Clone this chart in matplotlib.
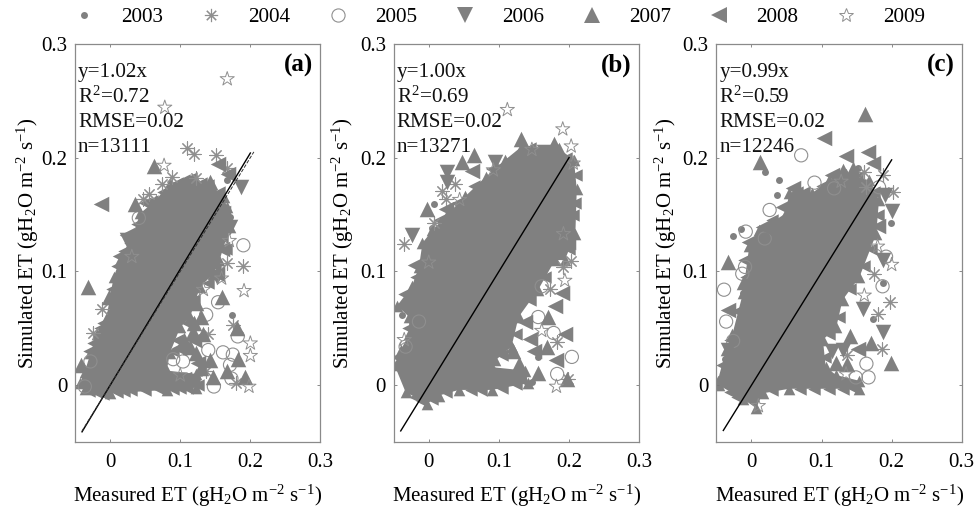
import matplotlib
matplotlib.use("Agg")
import matplotlib.pyplot as plt
from matplotlib.lines import Line2D

plt.rcParams['font.family'] = ['Liberation Serif', 'DejaVu Serif']
plt.rcParams['mathtext.fontset'] = 'custom'
plt.rcParams['mathtext.rm'] = 'Liberation Serif'
plt.rcParams['mathtext.it'] = 'Liberation Serif:italic'
plt.rcParams['mathtext.bf'] = 'Liberation Serif:bold'

YEARS = ['2003', '2004', '2005', '2006', '2007', '2008', '2009']
TICKS = [0, 0.1, 0.2, 0.3]
TICK_LABELS = ['0', '0.1', '0.2', '0.3']
PANEL_TAGS = ['(a)', '(b)', '(c)']
SLOPES = [1.02, 1.00, 0.99]
R2 = ['0.72', '0.69', '0.59']
RMSE = ['0.02', '0.02', '0.02']
N = ['13111', '13271', '12246']
LINE_X = [-0.04, 0.20]

# dense body of the clouds: outlines
cloud_a = [(-.043,.002),(-.036,.012),(-.028,.028),(-.019,.045),(-.005,.06),(.005,.095),(.014,.11),(.033,.133),(.043,.151),(.066,.163),(.085,.178),(.123,.180),(.147,.172),(.163,.165),(.166,.157),(.171,.139),(.156,.11),(.147,.098),(.128,.086),(.114,.06),(.1,.051),(.085,.028),(.081,.013),(.123,.010),(.123,-.002),(.081,-.004),(.0,-.007),(-.036,-.003)]
cloud_b = [(-.049,.018),(-.033,-.006),(-.002,-.016),(.014,-.009),(.043,-.004),(.09,-.004),(.142,.002),(.137,.013),(.09,.016),(.095,.022),(.118,.034),(.128,.06),(.156,.084),(.18,.11),(.194,.11),(.209,.133),(.211,.172),(.207,.198),(.185,.208),(.133,.21),(.109,.198),(.081,.183),(.052,.166),(.028,.151),(.005,.136),(-.009,.125),(-.014,.104),(-.024,.087),(-.045,.07),(-.028,.06),(-.028,.045),(-.04,.031)]
cloud_c = [(-.048,.004),(-.046,0),(-.012,-.012),(.007,-.02),(.016,-.007),(.054,-.003),(.154,-.003),(.154,.004),(.121,.009),(.106,.016),(.102,.04),(.121,.051),(.13,.075),(.154,.095),(.178,.133),(.182,.163),(.168,.18),(.135,.186),(.111,.18),(.087,.169),(.054,.169),(.049,.151),(.011,.136),(-.003,.122),(-.012,.081),(-.027,.045),(-.036,.031)]

# further marks read along the cloud edges
edge_a = [(.05,.16),(.06,.162),(.075,.17),(.095,.178),(.105,.18),(.115,.182),(.13,.178),(.14,.176),(.155,.17),(-.03,.03),(-.025,.037),(-.015,.05),(-.01,.055),(0,.075),(.003,.085),(.01,.105),(.02,.118),(.028,.125),(.038,.142),(-.03,-.005),(-.02,-.006),(-.01,-.008),(.01,-.006),(.02,-.005),(.03,-.004),(.05,-.004),(.07,-.003),(.09,-.003),(.1,-.002),(.11,-.002),(.125,0),(.12,.004),(.16,.13),(.165,.12),(.15,.105),(.14,.09),(.12,.075),(.11,.055),(.095,.04),(.09,.03)]
edge_b = [(.1,.192),(.12,.2),(.145,.208),(.16,.205),(.175,.207),(.195,.2),(.015,.145),(.04,.16),(.065,.175),(.09,.19),(-.018,.095),(-.035,.08),(-.03,.05),(-.045,.025),(-.02,-.01),(-.01,-.014),(.005,-.012),(.025,-.006),(.06,-.004),(.075,-.004),(.105,-.002),(.125,.001),(.13,.006),(.205,.15),(.21,.185),(.208,.16),(.2,.12),(.165,.095),(.145,.075),(.125,.045),(.105,.027)]
edge_c = [(.065,.17),(.075,.17),(.1,.175),(.12,.183),(.15,.183),(.175,.17),(.03,.145),(-.01,.11),(-.008,.095),(-.02,.065),(-.03,.04),(-.042,.018),(-.03,-.006),(-.02,-.01),(.03,-.004),(.07,-.003),(.09,-.003),(.11,-.003),(.13,-.003),(.145,-.002),(.18,.15),(.17,.12),(.16,.105),(.14,.085),(.125,.06),(.11,.045),(.105,.025)]

a_2003 = [(.174,.062),(.171,.148),(.166,.18)]
a_2004 = [(.110,.208),(.120,.203),(.151,.202),(.166,.191),(.123,.182),(.089,.183),(.074,.177),(.055,.168),(.047,.164),(-.012,.067),(-.025,.046),(.190,.105),(.166,.107),(.175,.053),(.180,.002),(.14,.045),(.137,.013)]
a_2005 = [(.190,.123),(.041,.147),(-.028,.021),(.154,.073),(.137,.062),(.182,.043),(.161,.029),(.175,.027),(.173,.006),(.148,-.001),(.14,.031),(.104,.021),(.09,.023),(.171,.018),(-.036,-.001)]
a_2006 = [(.186,.174),(.171,.139),(.152,.095),(.024,.128),(.162,.135),(.14,.1)]
a_2007 = [(.062,.193),(.036,.159),(-.032,.086),(-.002,.078),(-.041,.018),(.159,.078),(.181,.05),(.183,.023),(.166,.013),(.192,.007),(.142,.022),(.133,.045),(.123,.072),(.142,.179),(.114,.034),(.123,.028),(.147,.007),(.12,.055),(.13,.015),(.105,.04),(.118,.047),(.13,.06)]
a_2008 = [(-.013,.159),(.024,.132),(.014,.114),(.154,.194),(.168,.186),(.161,.151),(.152,.098),(.12,.04),(.105,.006),(.16,.12),(.098,.033),(.125,.02)]
a_2009 = [(.167,.269),(.078,.244),(.077,.193),(.170,.127),(.191,.083),(.200,.037),(.200,.026),(.198,-.001),(.1,.009),(.133,.084),(.159,.094),(.031,.113)]

b_2003 = [(-.038,.062),(.008,.159),(.005,.138),(.156,.025),(.147,.003)]
b_2004 = [(-.035,.124),(.019,.171),(.037,.177),(.025,.164),(.007,.143),(.203,.109),(.191,.104),(.173,.085),(.183,.038),(.199,.006)]
b_2005 = [(.204,.025),(.178,.046),(.156,.06),(.183,.01),(.161,.087),(-.014,.056),(-.033,.034)]
b_2006 = [(.095,.196),(.026,.187),(.026,.179),(-.024,.132),(.164,.205),(.19,.15)]
b_2007 = [(.132,.216),(.178,.212),(.065,.202),(.048,.196),(-.003,.155),(.169,.034),(.156,.011),(.197,.006),(.128,.019),(.12,.03),(.17,.06)]
b_2008 = [(-.036,.07),(.005,.128),(-.019,.106),(.194,.045),(.182,.022),(.145,.041),(.137,.056),(.19,.081),(.199,.126),(.062,.188),(.024,.155),(.18,.07),(.15,.03)]
b_2009 = [(.112,.242),(.191,.225),(.203,.21),(.092,.189),(.147,.207),(.044,.163),(0,.108),(-.035,.04),(.192,.133),(.194,.092),(.161,.048),(.182,-.001),(.206,.195)]

c_2003 = [(.019,.187),(.039,.18),(.037,.167),(-.026,.131),(-.015,.137),(.152,.191),(.199,.143),(.174,.058),(.187,.09),(-.038,.023),(-.012,.081)]
c_2004 = [(.16,.187),(.164,.174),(.187,.185),(.202,.17),(.198,.073),(.181,.063),(.186,.032),(.136,.027),(.175,.098)]
c_2005 = [(.071,.202),(.09,.178),(.026,.154),(-.008,.135),(-.009,.104),(-.013,.098),(-.039,.084),(-.036,.056),(-.026,.039),(.164,.019),(.167,.007),(.187,.087),(.192,.113),(.149,.007),(.019,.129),(.118,.173),(.182,.174)]
c_2006 = [(.2,.153),(.187,.047),(.159,.067),(-.034,.031),(.13,.031),(.187,.11),(.19,.167),(.115,.03)]
c_2007 = [(.162,.238),(.013,.196),(-.034,.108),(.199,.02),(.171,.037),(.14,.043),(.137,.019),(-.01,.091),(.13,.188),(.145,.19),(.12,.02)]
c_2008 = [(.104,.217),(.135,.201),(.166,.205),(.173,.195),(.152,.032),(-.034,.066),(.059,.173),(.045,.157),(.016,.139),(-.003,.126),(.115,.185),(.18,.14)]
c_2009 = [(.01,-.018),(.2,.106),(.18,.122),(.135,.01),(.161,.079),(.128,.179)]

panels = [
    (cloud_a, edge_a, [a_2003, a_2004, a_2005, a_2006, a_2007, a_2008, a_2009]),
    (cloud_b, edge_b, [b_2003, b_2004, b_2005, b_2006, b_2007, b_2008, b_2009]),
    (cloud_c, edge_c, [c_2003, c_2004, c_2005, c_2006, c_2007, c_2008, c_2009]),
]

GREY = '#808080'
EDGE = '#8f8f8f'
W, H = 976, 513
LEFTS = [75, 393.7, 716.3]
YLABEL_PADS = [0, 2.5, 2.5]
AX_W, AX_TOP, AX_BOT = 245.5, 43.7, 442.3
ASTER = (8, 2, 0)
styles = [
    dict(marker='o', s=25, c=GREY, linewidths=0),
    dict(marker=ASTER, s=90, c=EDGE, linewidths=0.8),
    dict(marker='o', s=90, facecolors='none', edgecolors=EDGE, linewidths=0.8),
    dict(marker='v', s=125, c=GREY, linewidths=0),
    dict(marker='^', s=125, c=GREY, linewidths=0),
    dict(marker='<', s=125, c=GREY, linewidths=0),
    dict(marker='*', s=115, facecolors='none', edgecolors=EDGE, linewidths=0.7),
]

fig = plt.figure(figsize=(W / 100, H / 100), dpi=100)
YLAB = r'Simulated ET (gH$_2$O m$^{-2}$ s$^{-1}$)'
XLAB = r'Measured ET (gH$_2$O m$^{-2}$ s$^{-1}$)'
TXT_TOP_PX, TXT_STEP_PX = 72, 25.3

for i, (cloud, edge, series) in enumerate(panels):
    ax = fig.add_axes([LEFTS[i] / W, 1 - AX_BOT / H, AX_W / W, (AX_BOT - AX_TOP) / H])
    ax.set_xlim(-0.05, 0.3)
    ax.set_ylim(-0.05, 0.3)
    ax.fill(*zip(*cloud), color=GREY, lw=0, zorder=1)
    ax.scatter(*zip(*cloud), marker='^', s=70, c=GREY, linewidths=0, zorder=1)
    ax.scatter(*zip(*edge), marker='<', s=80, c=GREY, linewidths=0, zorder=1)
    for pts, st in zip(series, styles):
        ax.scatter(*zip(*pts), zorder=2, **st)
    ax.plot(LINE_X, [SLOPES[i] * v for v in LINE_X], color='black', lw=1.0, zorder=3)
    if i == 0:
        ax.plot([-0.04, 0.205], [-0.04, 0.205], color='#333333', lw=0.7, ls='--', zorder=3)
    ax.set_xticks(TICKS, TICK_LABELS)
    ax.set_yticks(TICKS, TICK_LABELS)
    ax.tick_params(direction='in', length=2.5, width=0.6, color='#777777', top=True, right=True,
                   labelsize=15)
    ax.tick_params(axis='x', pad=7.5)
    ax.tick_params(axis='y', pad=5.5)
    for sp in ax.spines.values():
        sp.set_color('#8a8a8a')
        sp.set_linewidth(0.9)
    ax.set_xlabel(XLAB, fontsize=15, labelpad=8)
    ax.set_ylabel(YLAB, fontsize=15, labelpad=YLABEL_PADS[i])
    lines = [f'y={SLOPES[i]:.2f}x', f'R$^2$={R2[i]}', f'RMSE={RMSE[i]}', f'n={N[i]}']
    for k, t in enumerate(lines):
        py = TXT_TOP_PX + k * TXT_STEP_PX
        ax.text(0.012, (AX_BOT - py) / (AX_BOT - AX_TOP), t, transform=ax.transAxes, fontsize=15.2,
                ha='left', va='center', color='#111111', zorder=5)
    ax.text(0.97, 0.945, PANEL_TAGS[i], transform=ax.transAxes, fontsize=18, fontweight='bold',
            ha='right', va='center', zorder=5)

handles = []
for y, st in zip(YEARS, styles):
    filled = 'c' in st and st['marker'] != ASTER
    handles.append(Line2D([], [], ls='', marker=st['marker'],
                          markersize=st['s'] ** 0.5,
                          markerfacecolor=GREY if filled else 'none',
                          markeredgecolor=GREY if filled else EDGE,
                          markeredgewidth=st['linewidths'], label=y))
fig.legend(handles=handles, loc='center', bbox_to_anchor=(494 / W, 1 - 17 / H), ncol=7, frameon=False,
           fontsize=15.2, handlelength=2, handletextpad=0.76, columnspacing=1.27, borderpad=0, borderaxespad=0)
fig.savefig('out.png', dpi=100)
